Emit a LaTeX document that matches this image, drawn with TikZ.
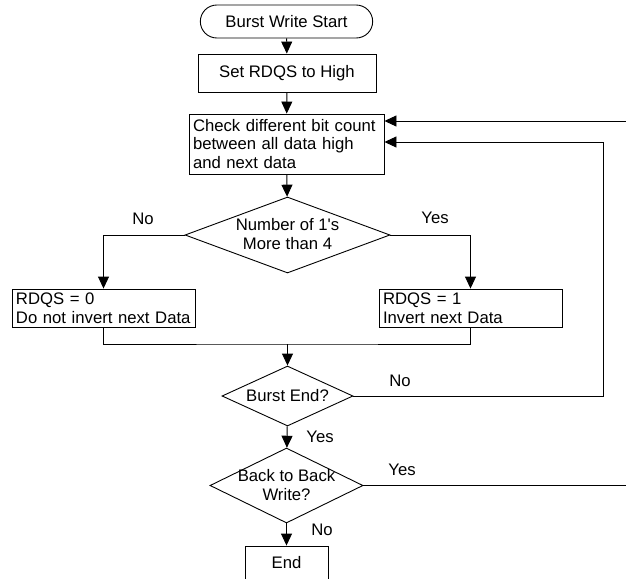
\documentclass[tikz,border=0pt]{standalone}
\usepackage{fontspec}
\setmainfont{Liberation Sans}
\usepackage{tikz}
\usetikzlibrary{shapes.geometric,shapes.misc,arrows.meta}

\begin{document}
\begin{tikzpicture}[x=1pt,y=-1pt,line width=0.9pt,
	font=\fontsize{16.7}{18.6}\selectfont,
	box/.style={draw,rectangle,inner xsep=4pt,inner ysep=1pt},
	dia/.style={draw,diamond,inner sep=0pt},
	arr/.style={-{Triangle[length=12pt,width=11pt]}},
	lbl/.style={inner sep=0pt}]

	\useasboundingbox (0,0) rectangle (626,578);
	\clip (0,0) rectangle (626,578);

	\node[draw,rounded rectangle,minimum width=179pt,minimum height=33pt] (start) at (286.5,21.5) {Burst Write Start};
	\node[box,minimum width=178pt,minimum height=38pt] (set) at (287,73) {Set RDQS to High};
	\node[box,text width=187pt,align=left,minimum height=60pt] (check) at (286.5,144) {Check different bit count\\between all data high\\and next data};

	\node[dia,minimum width=205pt,minimum height=76pt] (ones) at (287.5,235) {};
	\node[lbl,align=center] (onestxt) at (287.5,234) {Number of 1{\textquotesingle}s\\More than 4};

	\node[box,text width=175pt,align=left,minimum height=38pt] (inv0) at (103.5,308) {RDQS = 0\\Do not invert next Data};
	\node[box,text width=175pt,align=left,minimum height=38pt] (inv1) at (470.5,308) {RDQS = 1\\Invert next Data};

	\node[dia,minimum width=131pt,minimum height=60pt] (bend) at (287.5,396) {};
	\node[lbl] (bendtxt) at (287.5,396) {Burst End?};

	\node[dia,minimum width=153pt,minimum height=75pt] (b2b) at (286.5,485.5) {};
	\node[lbl,align=center] (b2btxt) at (286.5,485) {Back to Back\\Write?};

	\node[box,minimum width=83pt,minimum height=34pt] (end) at (286.5,563) {End};

	\coordinate (merge) at (287.5,344);
	\coordinate (loopin) at (603,142);
	\coordinate (loopout) at (640,121);

	\draw[arr] (start) -- (set);
	\draw[arr] (set) -- (check);
	\draw[arr] (check) -- (ones);
	\draw[arr] (ones.west) -| (inv0.north);
	\draw[arr] (ones.east) -| (inv1.north);
	\draw (inv0.south) |- (merge) -| (inv1.south);
	\draw[arr] (merge) -- (bend.north);
	\draw[arr] (bend.east) -| (loopin) -- (loopin -| check.east);
	\draw[arr] (bend) -- (b2b);
	\draw[arr] (b2b) -- (end);
	\draw[arr] (b2b.east) -| (loopout) -- (loopout -| check.east);

	\node[lbl] (no1) at (143,219) {No};
	\node[lbl] (yes1) at (435,218) {Yes};
	\node[lbl] (no2) at (400,381) {No};
	\node[lbl] (yes2) at (320,437) {Yes};
	\node[lbl] (yes3) at (402,470) {Yes};
	\node[lbl] (no3) at (322,530) {No};
\end{tikzpicture}
\end{document}
